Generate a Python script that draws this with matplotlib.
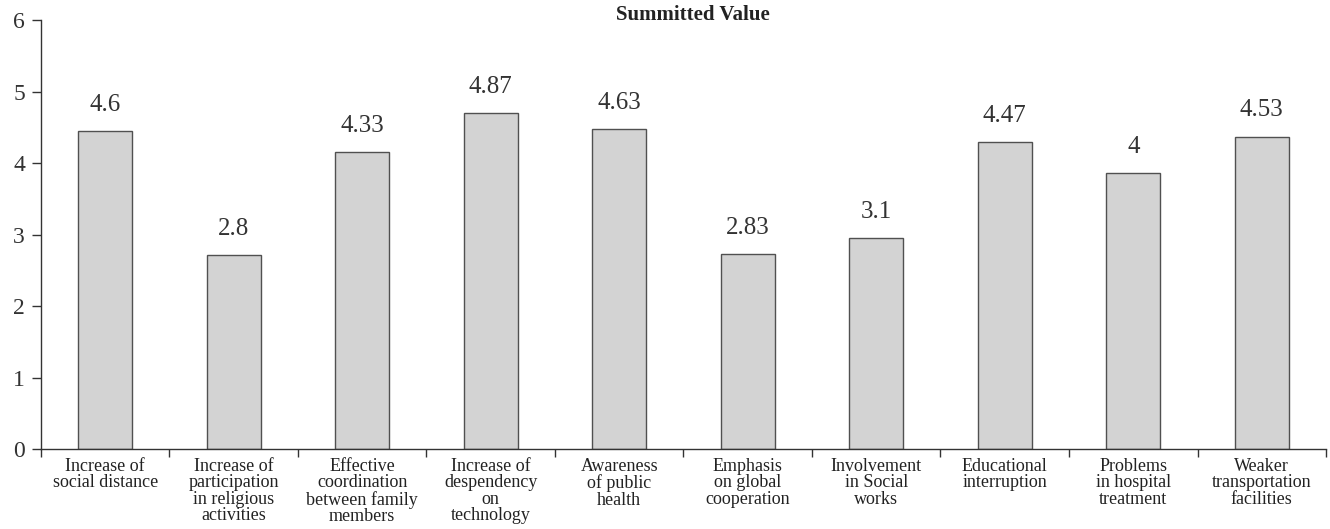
import matplotlib
matplotlib.use("Agg")
import matplotlib.pyplot as plt

# Data
categories = [
    "Increase of\nsocial distance",
    "Increase of\nparticipation\nin religious\nactivities",
    "Effective\ncoordination\nbetween family\nmembers",
    "Increase of\ndespendency\non\ntechnology",
    "Awareness\nof public\nhealth",
    "Emphasis\non global\ncooperation",
    "Involvement\nin Social\nworks",
    "Educational\ninterruption",
    "Problems\nin hospital\ntreatment",
    "Weaker\ntransportation\nfacilities",
]
# printed labels above the bars
value_labels = ["4.6", "2.8", "4.33", "4.87", "4.63", "2.83", "3.1", "4.47", "4", "4.53"]
# bar heights as drawn in the picture (slightly below the printed values)
bar_heights = [4.45, 2.71, 4.15, 4.70, 4.47, 2.73, 2.95, 4.29, 3.86, 4.37]
y_ticks = [0, 1, 2, 3, 4, 5, 6]

plt.rcParams['font.family'] = ['Liberation Serif', 'DejaVu Serif']

fig = plt.figure(figsize=(13.30, 5.29), dpi=100)
ax = fig.add_axes([0.0308, 0.1507, 0.9662, 0.8115])

x = list(range(len(categories)))
bars = ax.bar(x, bar_heights, width=0.418, color='#d3d3d3', edgecolor='#505050', linewidth=1.0)

for b, lab in zip(bars, value_labels):
    ax.annotate(lab, (b.get_x() + b.get_width() / 2, b.get_height()),
                xytext=(0, 11), textcoords='offset points',
                ha='center', va='bottom', fontsize=18, color='#333333')

ax.set_xlim(-0.5, len(categories) - 0.5)
ax.set_ylim(0, 6)
ax.set_yticks(y_ticks)
ax.tick_params(axis='y', labelsize=17, length=6.5, width=1, colors='#333333', pad=5)

# category boundaries as ticks, labels centered under bars
ax.set_xticks([i - 0.5 for i in range(len(categories) + 1)])
ax.set_xticklabels([])
ax.set_xticks(x, minor=True)
ax.set_xticklabels(categories, minor=True, fontsize=13, linespacing=0.97, color='#222222')
ax.tick_params(axis='x', which='major', length=6, width=1, color='#333333')
ax.tick_params(axis='x', which='minor', length=0, pad=6)

for s in ['top', 'right']:
    ax.spines[s].set_visible(False)
for s in ['left', 'bottom']:
    ax.spines[s].set_color('#333333')
    ax.spines[s].set_linewidth(1)

fig.text(0.521, 0.99, "Summitted Value", ha='center', va='top',
         fontsize=15, fontweight='bold', color='#222222')

fig.savefig("out.png", dpi=100)
